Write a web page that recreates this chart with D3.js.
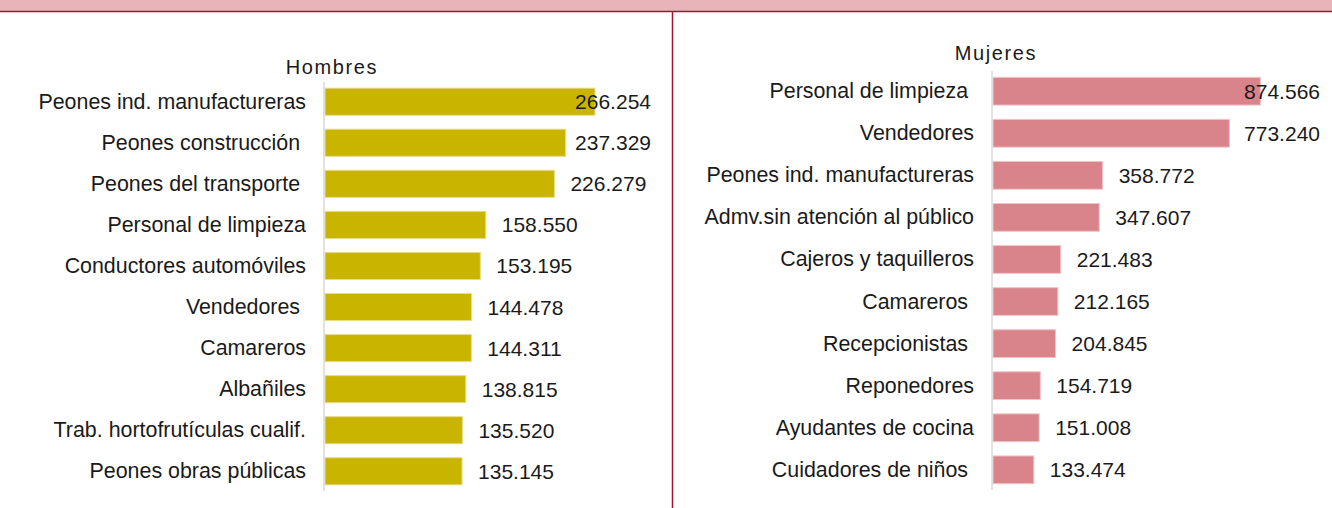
<!DOCTYPE html>
<html lang="es">
<head>
    <meta charset="UTF-8">
    <script src="https://d3js.org/d3.v7.min.js"></script>
    <style>
        body { margin: 0; background: #fff; font-family: "Liberation Sans", Arial, sans-serif; }
        svg text { white-space: pre; }
    </style>
</head>
<body>
    <div id="chart"></div>
    <script>
        // datos
        const hombresCats = ["Peones ind. manufactureras", "Peones construcción ", "Peones del transporte ",
            "Personal de limpieza", "Conductores automóviles", "Vendedores ", "Camareros", "Albañiles",
            "Trab. hortofrutículas cualif.", "Peones obras públicas"];
        const hombresVals = [266254, 237329, 226279, 158550, 153195, 144478, 144311, 138815, 135520, 135145];

        const mujeresCats = ["Personal de limpieza ", "Vendedores", "Peones ind. manufactureras",
            "Admv.sin atención al público", "Cajeros y taquilleros", "Camareros ", "Recepcionistas ",
            "Reponedores", "Ayudantes de cocina", "Cuidadores de niños "];
        const mujeresVals = [874566, 773240, 358772, 347607, 221483, 212165, 204845, 154719, 151008, 133474];

        const width = 1332, height = 508;
        const esFmt = d3.formatLocale({ decimal: ",", thousands: ".", grouping: [3], currency: ["", " €"] }).format(",d");

        const svg = d3.select("#chart").append("svg")
            .attr("width", width)
            .attr("height", height);

        // banda superior
        svg.append("rect").attr("x", 0).attr("y", 0).attr("width", width).attr("height", 11)
            .attr("fill", "#e8b4b9");
        svg.append("line").attr("x1", 0).attr("x2", width).attr("y1", 11.5).attr("y2", 11.5)
            .attr("stroke", "#a8102c").attr("stroke-width", 1.5);
        svg.append("line").attr("x1", 672.5).attr("x2", 672.5).attr("y1", 11).attr("y2", height)
            .attr("stroke", "#a8102c").attr("stroke-width", 1.5);

        function drawPanel(opts) {
            const g = svg.append("g");
            const data = opts.cats.map((c, i) => ({ cat: c, val: opts.vals[i] }));

            const x = d3.scaleLinear().domain([0, opts.max]).range([opts.x0, opts.x1]);
            const y = d3.scaleBand().domain(opts.cats).range(opts.yRange)
                .paddingInner(0.34).paddingOuter(0.15);

            g.append("text")
                .attr("x", opts.titleX).attr("y", opts.titleY)
                .attr("text-anchor", "middle")
                .attr("dominant-baseline", "central")
                .attr("font-size", 20)
                .attr("letter-spacing", 1.6)
                .attr("fill", "#1a1a1a")
                .text(opts.title);

            g.selectAll("rect.bar")
                .data(data)
                .enter().append("rect")
                .attr("class", "bar")
                .attr("x", x(0))
                .attr("y", d => y(d.cat))
                .attr("width", d => x(d.val) - x(0))
                .attr("height", y.bandwidth())
                .attr("fill", opts.color)
                .attr("stroke", opts.edge)
                .attr("stroke-width", 1);

            // eje vertical
            g.append("line")
                .attr("x1", x(0) - 1).attr("x2", x(0) - 1)
                .attr("y1", opts.yRange[0]).attr("y2", opts.yRange[1])
                .attr("stroke", "#d9d9d9").attr("stroke-width", 1.5);

            g.selectAll("text.cat")
                .data(data)
                .enter().append("text")
                .attr("class", "cat")
                .attr("x", opts.labelX)
                .attr("y", d => y(d.cat) + y.bandwidth() / 2)
                .attr("text-anchor", "end")
                .attr("dominant-baseline", "central")
                .attr("font-size", 21.4)
                .attr("fill", "#1a1a1a")
                .text(d => d.cat);

            const vals = g.selectAll("text.val")
                .data(data)
                .enter().append("text")
                .attr("class", "val")
                .attr("y", d => y(d.cat) + y.bandwidth() / 2)
                .attr("dominant-baseline", "central")
                .attr("font-size", 21)
                .attr("fill", "#1a1a1a")
                .text(d => esFmt(d.val));

            // etiqueta fuera de la barra, recortada al borde del área de trazado
            vals.each(function(d) {
                const w = this.getComputedTextLength();
                const pos = Math.min(x(d.val) + 16, opts.plotRight - w);
                d3.select(this).attr("x", pos);
            });
        }

        drawPanel({
            title: "Hombres", titleX: 332, titleY: 67,
            cats: hombresCats, vals: hombresVals, max: 300000,
            x0: 325, x1: 629.2, yRange: [82, 491], labelX: 306, plotRight: 651,
            color: "#c9b400", edge: "#e6dc8a"
        });

        drawPanel({
            title: "Mujeres", titleX: 996, titleY: 53,
            cats: mujeresCats, vals: mujeresVals, max: 1000000,
            x0: 993, x1: 1298.7, yRange: [71, 490], labelX: 974, plotRight: 1320,
            color: "#d9838b", edge: "#f0c4c8"
        });
    </script>
</body>
</html>
